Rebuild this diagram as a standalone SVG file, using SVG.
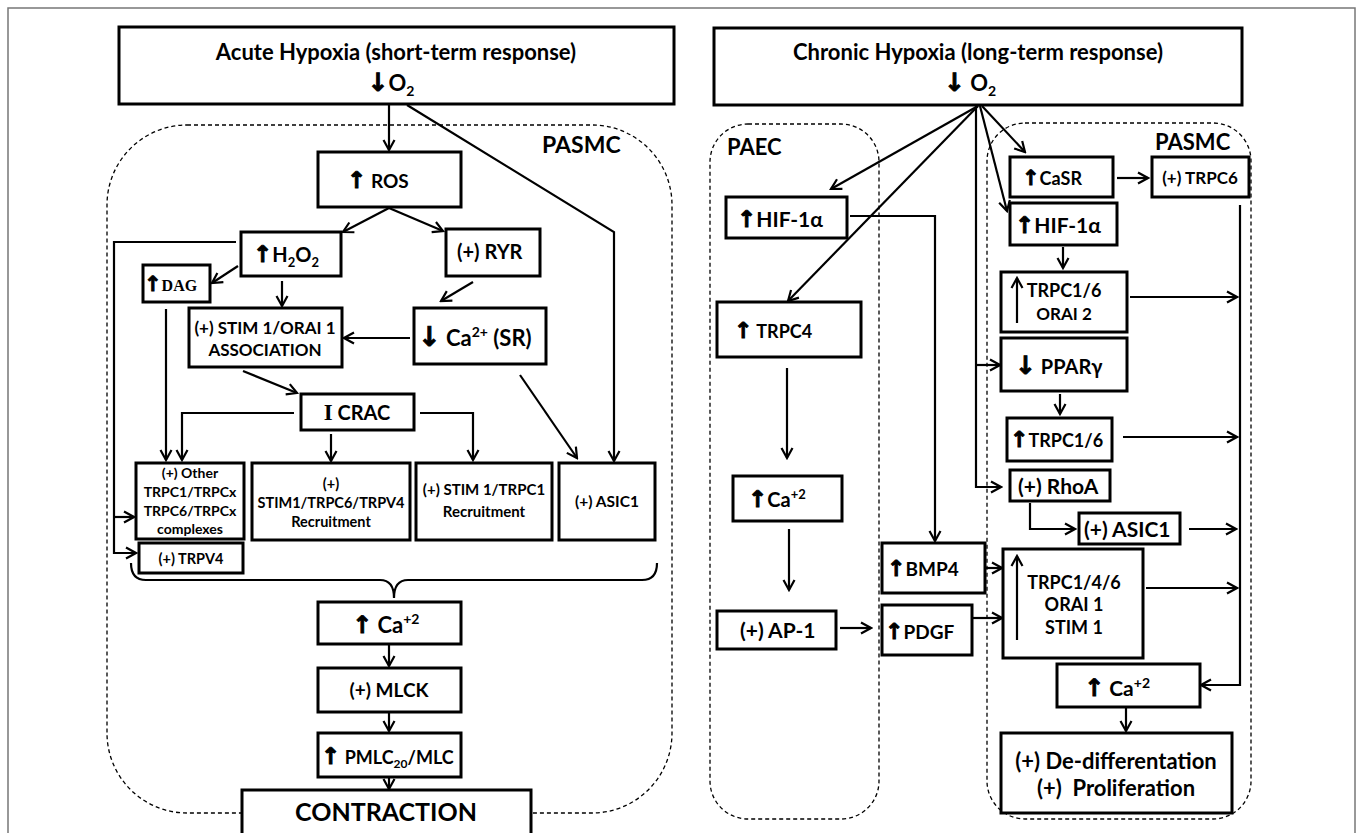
<svg xmlns="http://www.w3.org/2000/svg" width="1357" height="833" viewBox="0 0 1357 833">
<defs>
<style>
.box{fill:#fff;stroke:#000;stroke-width:3}
.dash{fill:none;stroke:#000;stroke-width:1.3;stroke-dasharray:4 3}
.con{fill:none;stroke:#000;stroke-width:2.2}
.t{font-family:Lato,"Liberation Sans",Arial,sans-serif;font-weight:bold;fill:#000}
.ser{font-family:"Liberation Serif","Times New Roman",serif;font-weight:bold;fill:#000}
.ar{font-family:"DejaVu Sans",sans-serif;font-weight:bold;stroke:#000;stroke-width:0.9}
.m{text-anchor:middle}
</style>
<marker id="ah" markerUnits="userSpaceOnUse" markerWidth="14" markerHeight="14" viewBox="0 0 14 14" refX="12" refY="7" orient="auto">
<path d="M2,1.5 L12,7 L2,12.5" fill="none" stroke="#000" stroke-width="2.2"/>
</marker>
</defs>
<rect x="0" y="0" width="1357" height="833" fill="#fff"/>
<rect x="8" y="8" width="1347" height="840" fill="none" stroke="#777" stroke-width="1.5"/>

<g id="regions">
<rect class="dash" x="107" y="125" width="565" height="688" rx="80" ry="80"/>
<rect class="dash" x="710" y="124" width="169" height="695" rx="38" ry="38"/>
<rect class="dash" x="987" y="123" width="264" height="696" rx="38" ry="38"/>
<text class="t" x="542" y="153" font-size="23">PASMC</text>
<text class="t" x="727" y="155" font-size="22">PAEC</text>
<text class="t" x="1155" y="150" font-size="22">PASMC</text>
</g>

<g id="connectors">
<line class="con" x1="389" y1="105" x2="389" y2="150" marker-end="url(#ah)"/>
<path class="con" d="M407,105 L614,232 L614,461" marker-end="url(#ah)"/>
<line class="con" x1="389" y1="208" x2="343" y2="232" marker-end="url(#ah)"/>
<line class="con" x1="389" y1="208" x2="443" y2="231" marker-end="url(#ah)"/>
<path class="con" d="M236,242 L114,242 L114,553 L136,553" marker-end="url(#ah)"/>
<line class="con" x1="114" y1="517" x2="134" y2="517" marker-end="url(#ah)"/>
<line class="con" x1="238" y1="266" x2="212" y2="283" marker-end="url(#ah)"/>
<line class="con" x1="282" y1="281" x2="282" y2="306" marker-end="url(#ah)"/>
<line class="con" x1="473" y1="282" x2="441" y2="301" marker-end="url(#ah)"/>
<line class="con" x1="410" y1="338" x2="344" y2="338" marker-end="url(#ah)"/>
<line class="con" x1="243" y1="371" x2="297" y2="393" marker-end="url(#ah)"/>
<line class="con" x1="166" y1="309" x2="166" y2="460" marker-end="url(#ah)"/>
<path class="con" d="M294,413 L182,413 L182,460" marker-end="url(#ah)"/>
<line class="con" x1="331" y1="434" x2="331" y2="461" marker-end="url(#ah)"/>
<path class="con" d="M420,413 L473,413 L473,460" marker-end="url(#ah)"/>
<line class="con" x1="520" y1="375" x2="577" y2="458" marker-end="url(#ah)"/>
<path class="con" stroke-width="2.6" d="M131,563 Q131,580 146,580 L380,580 Q394,580 394,598 Q394,580 408,580 L642,580 Q657,580 657,563"/>
<line class="con" x1="389" y1="645" x2="389" y2="666" marker-end="url(#ah)"/>
<line class="con" x1="389" y1="713" x2="389" y2="731" marker-end="url(#ah)"/>
<line class="con" x1="389" y1="778" x2="389" y2="789" marker-end="url(#ah)"/>

<line class="con" x1="978" y1="106" x2="831" y2="189" marker-end="url(#ah)"/>
<line class="con" x1="978" y1="106" x2="788" y2="301" marker-end="url(#ah)"/>
<path class="con" d="M976,106 L976,487 L1001,487" marker-end="url(#ah)"/>
<line class="con" x1="976" y1="365" x2="1000" y2="365" marker-end="url(#ah)"/>
<line class="con" x1="980" y1="106" x2="1007" y2="211" marker-end="url(#ah)"/>
<line class="con" x1="982" y1="106" x2="1025" y2="152" marker-end="url(#ah)"/>
<path class="con" d="M850,216 L935,216 L935,541" marker-end="url(#ah)"/>
<line class="con" x1="787" y1="368" x2="787" y2="458" marker-end="url(#ah)"/>
<line class="con" x1="789" y1="529" x2="789" y2="590" marker-end="url(#ah)"/>
<line class="con" x1="840" y1="628" x2="871" y2="628" marker-end="url(#ah)"/>
<line class="con" x1="1117" y1="178" x2="1148" y2="178" marker-end="url(#ah)"/>
<line class="con" x1="1063" y1="247" x2="1063" y2="268" marker-end="url(#ah)"/>
<line class="con" x1="1130" y1="297" x2="1237" y2="297" marker-end="url(#ah)"/>
<line class="con" x1="1060" y1="394" x2="1060" y2="414" marker-end="url(#ah)"/>
<line class="con" x1="1123" y1="437" x2="1237" y2="437" marker-end="url(#ah)"/>
<path class="con" d="M1030,503 L1030,529 L1075,529" marker-end="url(#ah)"/>
<line class="con" x1="1189" y1="529" x2="1236" y2="529" marker-end="url(#ah)"/>
<line class="con" x1="986" y1="568" x2="1002" y2="568" marker-end="url(#ah)"/>
<line class="con" x1="973" y1="618" x2="1002" y2="618" marker-end="url(#ah)"/>
<line class="con" x1="1146" y1="588" x2="1237" y2="588" marker-end="url(#ah)"/>
<path class="con" d="M1240,205 L1240,685 L1201,685" marker-end="url(#ah)"/>
<line class="con" x1="1126" y1="707" x2="1126" y2="731" marker-end="url(#ah)"/>
</g>

<g id="acute">
<rect class="box" x="119" y="27" width="555" height="77"/>
<text class="t m" x="396" y="60" font-size="22">Acute Hypoxia (short-term response)</text>
<text class="t m" x="391" y="91" font-size="22"><tspan class="ar" font-size="25">↓</tspan>O<tspan font-size="14" dy="5">2</tspan></text>
</g>
<g id="ros">
<rect class="box" x="318" y="152" width="143" height="55"/>
<text class="t" x="347" y="188" font-size="19"><tspan class="ar" font-size="23">↑</tspan> ROS</text>
</g>
<g id="h2o2">
<rect class="box" x="241" y="232" width="100" height="44"/>
<text class="t" x="253" y="262" font-size="20"><tspan class="ar" font-size="23">↑</tspan>H<tspan font-size="13" dy="5">2</tspan><tspan dy="-5">O</tspan><tspan font-size="13" dy="5">2</tspan></text>
</g>
<g id="ryr">
<rect class="box" x="446" y="229" width="94" height="47"/>
<text class="t" x="457" y="259" font-size="20">(+) RYR</text>
</g>
<g id="dag">
<rect class="box" x="143" y="265" width="67" height="37"/>
<text class="t" x="144" y="291" font-size="16"><tspan class="ar" font-size="21">↑</tspan><tspan class="ser">DAG</tspan></text>
</g>
<g id="stim-orai">
<rect class="box" x="189" y="308" width="153" height="59"/>
<text class="t m" x="265" y="334" font-size="17">(+) STIM 1/ORAI 1</text>
<text class="t m" x="265" y="356" font-size="17">ASSOCIATION</text>
</g>
<g id="ca-sr">
<rect class="box" x="414" y="308" width="132" height="56"/>
<text class="t" x="418" y="346" font-size="22"><tspan class="ar" font-size="27">↓</tspan> Ca<tspan font-size="14" dy="-9">2+</tspan><tspan dy="9"> (SR)</tspan></text>
</g>
<g id="icrac">
<rect class="box" x="301" y="394" width="113" height="36"/>
<text class="t m" x="357" y="420" font-size="20"><tspan class="ser" font-size="23" font-weight="normal">I</tspan> CRAC</text>
</g>
<g id="other-trpc">
<rect class="box" x="136" y="463" width="108" height="76"/>
<text class="t m" x="190" y="478" font-size="14">(+) Other</text>
<text class="t m" x="190" y="497" font-size="14">TRPC1/TRPCx</text>
<text class="t m" x="190" y="516" font-size="14">TRPC6/TRPCx</text>
<text class="t m" x="190" y="534" font-size="14">complexes</text>
</g>
<g id="stim-trpc6">
<rect class="box" x="252" y="463" width="158" height="77"/>
<text class="t m" x="331" y="489" font-size="14.5">(+)</text>
<text class="t m" x="331" y="508" font-size="14.5">STIM1/TRPC6/TRPV4</text>
<text class="t m" x="331" y="527" font-size="14.5">Recruitment</text>
</g>
<g id="stim-trpc1">
<rect class="box" x="416" y="463" width="136" height="77"/>
<text class="t m" x="484" y="495" font-size="15">(+) STIM 1/TRPC1</text>
<text class="t m" x="484" y="517" font-size="15">Recruitment</text>
</g>
<g id="asic1-left">
<rect class="box" x="559" y="463" width="96" height="77"/>
<text class="t m" x="607" y="507" font-size="15.5">(+) ASIC1</text>
</g>
<g id="trpv4">
<rect class="box" x="139" y="543" width="104" height="30"/>
<text class="t m" x="191" y="564" font-size="14.5">(+) TRPV4</text>
</g>
<g id="ca-left">
<rect class="box" x="318" y="602" width="143" height="42"/>
<text class="t" x="352" y="633" font-size="22"><tspan class="ar" font-size="24">↑</tspan> Ca<tspan font-size="14" dy="-9">+2</tspan></text>
</g>
<g id="mlck">
<rect class="box" x="318" y="668" width="143" height="44"/>
<text class="t m" x="389" y="697" font-size="19">(+) MLCK</text>
</g>
<g id="pmlc">
<rect class="box" x="318" y="733" width="143" height="44"/>
<text class="t" x="321" y="764" font-size="18"><tspan class="ar" font-size="23">↑</tspan> PMLC<tspan font-size="12" dy="4">20</tspan><tspan dy="-4">/MLC</tspan></text>
</g>
<g id="contraction">
<rect class="box" x="242" y="790" width="289" height="45"/>
<text class="t m" x="386" y="821" font-size="25">CONTRACTION</text>
</g>

<g id="chronic">
<rect class="box" x="714" y="28" width="528" height="77"/>
<text class="t m" x="978" y="60" font-size="22">Chronic Hypoxia (long-term response)</text>
<text class="t m" x="970" y="91" font-size="22"><tspan class="ar" font-size="25">↓</tspan> O<tspan font-size="14" dy="5">2</tspan></text>
</g>
<g id="hif-paec">
<rect class="box" x="726" y="197" width="121" height="41"/>
<text class="t" x="737" y="227" font-size="21"><tspan class="ar" font-size="23">↑</tspan>HIF-1α</text>
</g>
<g id="trpc4">
<rect class="box" x="717" y="302" width="144" height="55"/>
<text class="t" x="734" y="338" font-size="18"><tspan class="ar" font-size="22">↑</tspan>  TRPC4</text>
</g>
<g id="ca-paec">
<rect class="box" x="733" y="476" width="109" height="45"/>
<text class="t" x="748" y="507" font-size="20"><tspan class="ar" font-size="23">↑</tspan>Ca<tspan font-size="13" dy="-8">+2</tspan></text>
</g>
<g id="ap1">
<rect class="box" x="717" y="611" width="119" height="38"/>
<text class="t" x="740" y="638" font-size="21">(+) AP-1</text>
</g>
<g id="bmp4">
<rect class="box" x="882" y="543" width="103" height="50"/>
<text class="t" x="887" y="576" font-size="19"><tspan class="ar" font-size="22">↑</tspan>BMP4</text>
</g>
<g id="pdgf">
<rect class="box" x="882" y="605" width="90" height="50"/>
<text class="t" x="885" y="639" font-size="19"><tspan class="ar" font-size="22">↑</tspan>PDGF</text>
</g>
<g id="casr">
<rect class="box" x="1010" y="157" width="103" height="40"/>
<text class="t" x="1022" y="185" font-size="18"><tspan class="ar" font-size="21">↑</tspan>CaSR</text>
</g>
<g id="trpc6">
<rect class="box" x="1152" y="157" width="97" height="40"/>
<text class="t m" x="1200" y="184" font-size="17">(+) TRPC6</text>
</g>
<g id="hif-pasmc">
<rect class="box" x="1010" y="203" width="107" height="42"/>
<text class="t" x="1015" y="233" font-size="21"><tspan class="ar" font-size="23">↑</tspan>HIF-1α</text>
</g>
<g id="trpc16-orai2">
<rect class="box" x="1001" y="272" width="126" height="60"/>
<line class="con" x1="1017" y1="323" x2="1017" y2="278" marker-end="url(#ah)"/>
<text class="t m" x="1064" y="297" font-size="18">TRPC1/6</text>
<text class="t m" x="1064" y="320" font-size="17">ORAI 2</text>
</g>
<g id="ppar">
<rect class="box" x="1001" y="338" width="126" height="53"/>
<text class="t" x="1015" y="374" font-size="20"><tspan class="ar" font-size="25">↓</tspan> PPARγ</text>
</g>
<g id="trpc16">
<rect class="box" x="1007" y="418" width="105" height="43"/>
<text class="t" x="1010" y="447" font-size="18"><tspan class="ar" font-size="22">↑</tspan>TRPC1/6</text>
</g>
<g id="rhoa">
<rect class="box" x="1010" y="470" width="100" height="31"/>
<text class="t" x="1018" y="494" font-size="21">(+) RhoA</text>
</g>
<g id="asic1-right">
<rect class="box" x="1079" y="513" width="101" height="31"/>
<text class="t" x="1084" y="537" font-size="21">(+) ASIC1</text>
</g>
<g id="trpc146">
<rect class="box" x="1003" y="549" width="140" height="109"/>
<line class="con" x1="1017" y1="640" x2="1017" y2="556" marker-end="url(#ah)"/>
<text class="t m" x="1074" y="589" font-size="18">TRPC1/4/6</text>
<text class="t m" x="1074" y="611" font-size="18">ORAI 1</text>
<text class="t m" x="1074" y="634" font-size="18">STIM 1</text>
</g>
<g id="ca-pasmc">
<rect class="box" x="1057" y="664" width="143" height="43"/>
<text class="t" x="1084" y="696" font-size="21"><tspan class="ar" font-size="24">↑</tspan> Ca<tspan font-size="14" dy="-8">+2</tspan></text>
</g>
<g id="dediff">
<rect class="box" x="1001" y="733" width="231" height="80"/>
<text class="t m" x="1116" y="769" font-size="22">(+) De-differentation</text>
<text class="t m" x="1116" y="796" font-size="22" xml:space="preserve">(+)  Proliferation</text>
</g>
</svg>
